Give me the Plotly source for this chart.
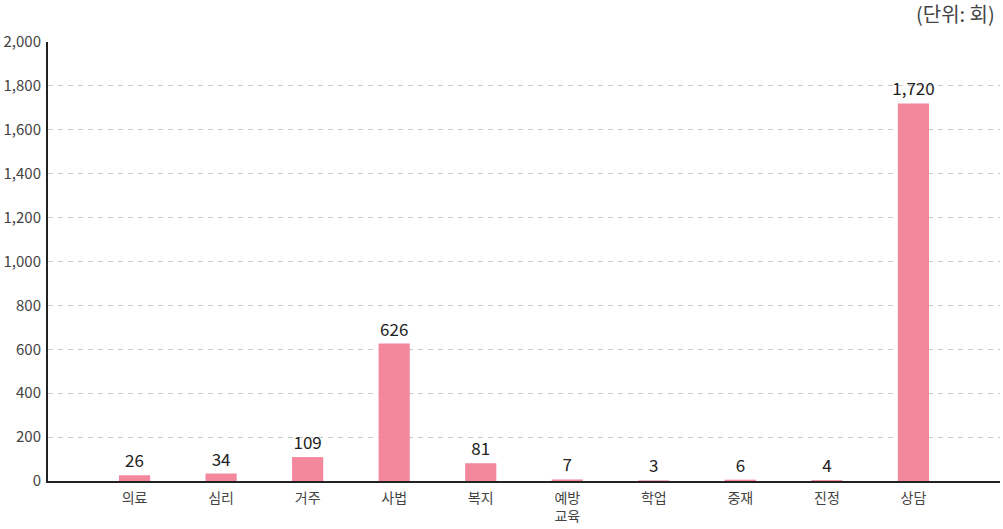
import plotly.graph_objects as go

categories = ["의료", "심리", "거주", "사법", "복지", "예방<br>교육", "학업", "중재", "진정", "상담"]
values = [26, 34, 109, 626, 81, 7, 3, 6, 4, 1720]
labels = ["26", "34", "109", "626", "81", "7", "3", "6", "4", "1,720"]
y_ticks = [0, 200, 400, 600, 800, 1000, 1200, 1400, 1600, 1800, 2000]

font_family = "Noto Sans CJK KR, Noto Sans, sans-serif"
x_pos = list(range(len(categories)))

fig = go.Figure()
fig.add_trace(go.Bar(
    x=x_pos, y=values, width=0.36,
    marker=dict(color="#F3889D", line=dict(width=0)),
    text=labels, textposition="outside", cliponaxis=False, constraintext="none",
    textfont=dict(family=font_family, size=17, color="#222222"),
    hoverinfo="skip",
))

fig.update_layout(
    width=1003, height=529,
    margin=dict(l=48, r=3, t=42, b=48, autoexpand=False),
    paper_bgcolor="white", plot_bgcolor="white",
    showlegend=False,
    font=dict(family=font_family, color="#444444"),
    xaxis=dict(
        range=[-1, 10], tickmode="array", tickvals=x_pos, ticktext=categories,
        showgrid=False, zeroline=False, showline=True, linecolor="#222222", linewidth=2,
        ticks="", ticklabelstandoff=3, tickfont=dict(size=14, color="#444444"),
        fixedrange=True, automargin=False,
    ),
    yaxis=dict(
        range=[0, 2000], tickmode="array", tickvals=y_ticks,
        ticktext=[f"{v:,}" for v in y_ticks],
        showgrid=True, gridcolor="#c8c8c8", gridwidth=1, griddash="5px,5px",
        zeroline=False, showline=True, linecolor="#222222", linewidth=2,
        ticks="", ticklabelstandoff=2, tickfont=dict(size=15, color="#444444"),
        fixedrange=True, automargin=False,
    ),
    annotations=[dict(
        text="(단위: 회)", xref="paper", yref="paper", x=1, y=1,
        xanchor="right", yanchor="bottom", yshift=12, xshift=-3, showarrow=False,
        font=dict(family=font_family, size=20, color="#444444"),
    )],
)

fig.write_html(
    "out.html",
    config={"displayModeBar": False, "staticPlot": True},
    post_script="document.body.style.margin='0';document.body.style.overflow='hidden';",
)
